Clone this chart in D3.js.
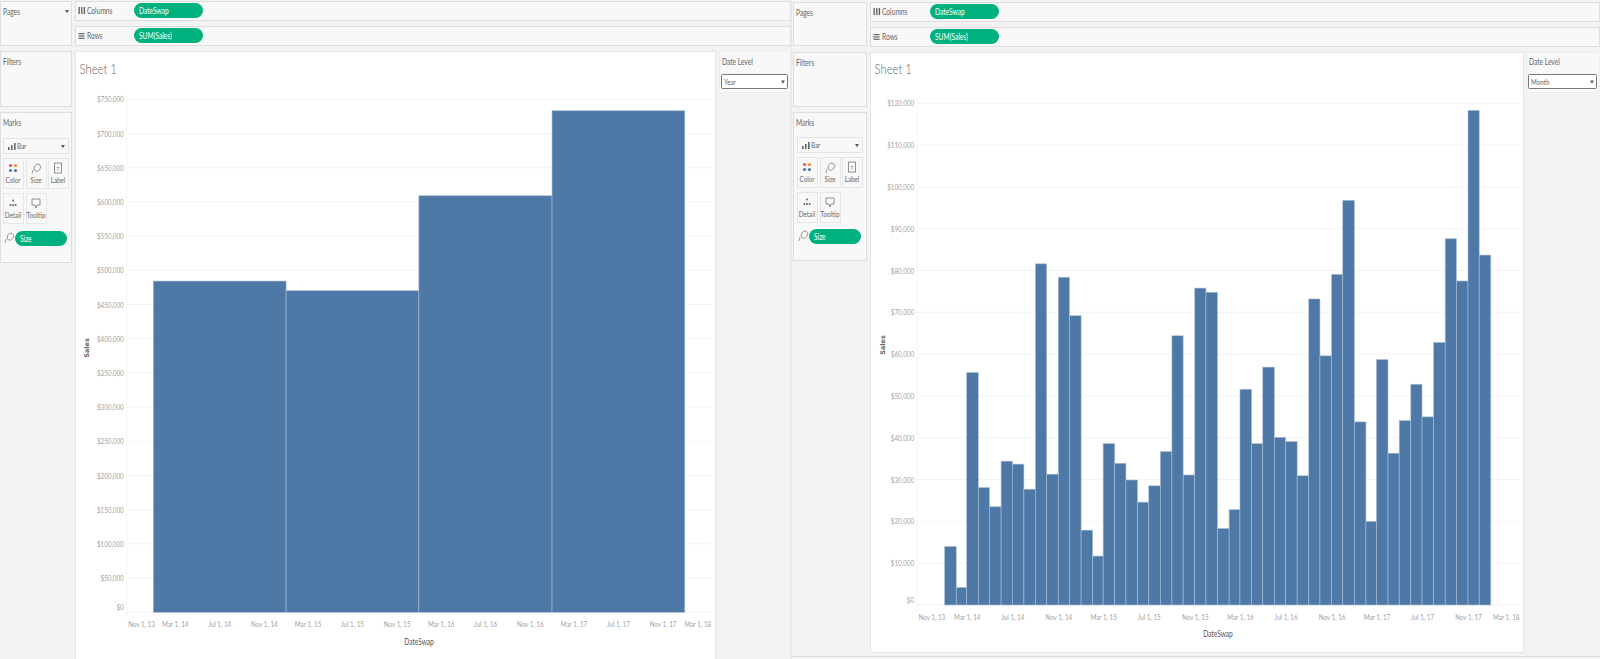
<!DOCTYPE html>
<html>
<head>
<meta charset="utf-8">
<script src="https://cdn.jsdelivr.net/npm/d3@7"></script>
<style>
html, body { margin: 0; padding: 0; background: #f3f3f3; overflow: hidden; }
text { font-family: Lato, sans-serif; }
text.wide { font-family: "DejaVu Sans", sans-serif; }
</style>
</head>
<body>
<svg id="chart" width="1600" height="659" style="display:block"></svg>
<script>
// values
var yearStarts = ["2014-01-01", "2015-01-01", "2016-01-01", "2017-01-01", "2018-01-01"];
var yearSales = [484300, 470200, 609000, 733300];
var yearTicks = d3.range(0, 750001, 50000);

var monthSales = [
    14000, 4200, 55600, 28100, 23500, 34400, 33700, 27700, 81600, 31300, 78400, 69200,
    17900, 11700, 38600, 33900, 29900, 24600, 28500, 36700, 64400, 31100, 75800, 74800,
    18300, 22800, 51600, 38600, 56900, 40100, 39100, 30900, 73200, 59600, 79100, 96800,
    43800, 20000, 58700, 36300, 44100, 52800, 45000, 62800, 87600, 77500, 118300, 83700
];
var monthTicks = d3.range(0, 120001, 10000);

var dateTicks = ["2013-11-01", "2014-03-01", "2014-07-01", "2014-11-01", "2015-03-01", "2015-07-01",
    "2015-11-01", "2016-03-01", "2016-07-01", "2016-11-01", "2017-03-01", "2017-07-01", "2017-11-01", "2018-03-01"];

var parseDate = d3.timeParse("%Y-%m-%d");
var formatDate = d3.timeFormat("%b %-d, %y");
var svg = d3.select("#chart");

var green = "#00b180";
var barColor = "#4e79a7";

function box(x, y, w, h, fill, stroke) {
    svg.append("rect").attr("x", x + 0.5).attr("y", y + 0.5).attr("width", w).attr("height", h)
        .attr("fill", fill).attr("stroke", stroke || "#dedede");
}

function label(x, y, str, size, color, weight) {
    return svg.append("text").attr("x", x).attr("y", y).text(str)
        .attr("font-size", size).attr("fill", color || "#666")
        .attr("font-weight", weight || 400);
}

function pill(x, y, w, str) {
    svg.append("rect").attr("x", x).attr("y", y).attr("width", w).attr("height", 15)
        .attr("rx", 7.5).attr("fill", green);
    label(x + 5, y + 11, str, 8.5, "#fff");
}

function caret(x, y) {
    svg.append("path").attr("d", d3.symbol(d3.symbolTriangle, 6)())
        .attr("transform", "translate(" + x + "," + y + ") rotate(180)").attr("fill", "#555");
}

function lasso(x, y) {
    svg.append("ellipse").attr("cx", x + 1).attr("cy", y - 1).attr("rx", 3).attr("ry", 3.8)
        .attr("transform", "rotate(30 " + x + " " + y + ")")
        .attr("fill", "none").attr("stroke", "#888").attr("stroke-width", 0.8);
    svg.append("path").attr("d", "M" + (x - 3) + "," + (y + 2) + "l-1,4")
        .attr("stroke", "#888").attr("stroke-width", 0.8);
}

function cardIcon(name, x, y) {
    if (name == "Color") {
        [[-2.5, -2.5, "#e15759"], [2.5, -2.5, "#f28e2b"], [-2.5, 2.5, "#4e79a7"], [2.5, 2.5, "#4e79a7"]].forEach(function (p) {
            svg.append("circle").attr("cx", x + p[0]).attr("cy", y + p[1]).attr("r", 1.6).attr("fill", p[2]);
        });
    } else if (name == "Size") {
        lasso(x, y);
    } else if (name == "Label") {
        svg.append("rect").attr("x", x - 3.5).attr("y", y - 5).attr("width", 7).attr("height", 10)
            .attr("fill", "none").attr("stroke", "#777").attr("stroke-width", 0.8);
        label(x, y + 2.5, "T", 6, "#777").attr("text-anchor", "middle");
    } else if (name == "Detail") {
        [[0, -2.5], [-2.6, 2], [0, 2], [2.6, 2]].forEach(function (p) {
            svg.append("circle").attr("cx", x + p[0]).attr("cy", y + p[1]).attr("r", 1).attr("fill", "#666");
        });
    } else {
        svg.append("path").attr("d", "M" + (x - 4) + "," + (y - 4) + "h8v6h-3l-1,3l-1,-3h-3z")
            .attr("fill", "none").attr("stroke", "#777").attr("stroke-width", 0.8);
    }
}

// left cards of one worksheet
function sidePanel(ox, dy, cardW, marksBottom) {
    box(ox, 1 + dy, cardW, 44 - dy, "#f8f8f8");
    label(ox + 3, 15 + dy, "Pages", 8.5);
    box(ox, 51 + dy, cardW, 55 - dy, "#f8f8f8");
    label(ox + 3, 65 + dy, "Filters", 8.5);
    box(ox, 112, cardW, marksBottom - 112, "#f8f8f8");
    label(ox + 3, 126, "Marks", 8.5);

    var cx = ox + (dy ? 4 : 3), cy = dy ? -1 : 0;
    box(cx, 138 + cy, 65, 15, "#f8f8f8", "#e4e4e4");
    label(cx + 14, 149 + cy, "Bar", 8);
    caret(cx + 60, 146 + cy);
    [[5, 4], [8, 2], [11, 0]].forEach(function (b) {
        svg.append("rect").attr("x", cx + b[0]).attr("y", 143 + cy + b[1]).attr("width", 1.6).attr("height", 7 - b[1])
            .attr("fill", "#666");
    });

    var cards = [["Color", 0, 158], ["Size", 23, 158], ["Label", 45, 158], ["Detail", 0, 193], ["Tooltip", 23, 193]];
    cards.forEach(function (c) {
        var top = c[2] + cy;
        box(cx + c[1], top, 20, 30, "#f8f8f8", "#e6e6e6");
        label(cx + c[1] + 10, top + 25, c[0], 8).attr("text-anchor", "middle");
        cardIcon(c[0], cx + c[1] + 10, top + 10);
    });
    svg.append("rect").attr("x", cx + 12).attr("y", 231 + cy * 2).attr("width", 52).attr("height", 15)
        .attr("rx", 7.5).attr("fill", green);
    label(cx + 17, 242 + cy * 2, "Size", 8.5, "#fff");
    lasso(cx + 6, 237 + cy * 2);
}

function shelves(x, dy, end, labelX, pillX) {
    box(x, 1 + dy, end - x, 19, "#f8f8f8");
    box(x, 26 + dy, end - x, 19, "#f8f8f8");
    label(labelX, 14 + dy, "Columns", 8.5);
    label(labelX, 39 + dy, "Rows", 8.5);
    [0, 2.6, 5.2].forEach(function (d) {
        svg.append("rect").attr("x", labelX - 8.5 + d).attr("y", 7 + dy).attr("width", 1.4).attr("height", 7).attr("fill", "#666");
        svg.append("rect").attr("x", labelX - 8.5).attr("y", 33 + dy + d * 0.9).attr("width", 6).attr("height", 1.2).attr("fill", "#666");
    });
    pill(pillX, 3 + dy, 69, "DateSwap");
    pill(pillX, 28 + dy, 69, "SUM(Sales)");
}

function dateAxis(g, x, y0) {
    var ticks = dateTicks.map(parseDate);
    var axis = g.append("g").attr("transform", "translate(0," + y0 + ")")
        .call(d3.axisBottom(x).tickValues(ticks).tickFormat(formatDate).tickSize(0).tickPadding(9.5));
    axis.select(".domain").remove();
    axis.selectAll("text").attr("font-size", 8).attr("fill", "#a2a2a2");
    // end labels get pushed inside the pane
    var r = x.range();
    axis.selectAll(".tick text").filter(function (d, i) { return i == 0; })
        .attr("text-anchor", "start").attr("x", r[0] - x(ticks[0]) + 1);
    axis.selectAll(".tick text").filter(function (d, i) { return i == ticks.length - 1; })
        .attr("text-anchor", "end").attr("x", r[1] - x(ticks[ticks.length - 1]) - 1);
}

function salesAxis(g, y, ticks, xLeft, xRight) {
    g.selectAll(".grid").data(ticks).enter().append("line").attr("class", "grid")
        .attr("x1", xLeft).attr("x2", xRight)
        .attr("y1", function (d) { return y(d); }).attr("y2", function (d) { return y(d); })
        .attr("stroke", "#f4f4f4");
    g.append("line").attr("x1", xLeft).attr("x2", xLeft)
        .attr("y1", y.range()[1] - 6).attr("y2", y.range()[0] + 6).attr("stroke", "#f6f6f6");
    var axis = g.append("g").attr("transform", "translate(" + xLeft + ",0)")
        .call(d3.axisLeft(y).tickValues(ticks).tickFormat(d3.format("$,")).tickSize(0).tickPadding(3));
    axis.select(".domain").remove();
    axis.selectAll("text").attr("font-size", 8).attr("fill", "#a2a2a2");
    // the $0 label sits a little above the baseline
    axis.selectAll(".tick text").filter(function (d) { return d == 0; }).attr("y", -5.5);
}

function drawBars(g, x, y, rows) {
    g.selectAll(".bar").data(rows).enter().append("rect").attr("class", "bar")
        .attr("x", function (d) { return x(d.start); })
        .attr("width", function (d) { return x(d.end) - x(d.start); })
        .attr("y", function (d) { return y(d.value); })
        .attr("height", function (d) { return y(0) - y(d.value); })
        .attr("fill", barColor)
        .attr("stroke", "#a9bdd3").attr("stroke-width", 0.6);
}

function sheet(px, pw, top, pb, titleX) {
    svg.append("rect").attr("x", px + 0.5).attr("y", top + 0.5).attr("width", pw).attr("height", pb - top)
        .attr("fill", "#fff").attr("stroke", "#e6e6e6");
    label(titleX, 74, "Sheet 1", 14.5, "#666", 300);
    return svg.append("g");
}

function axisTitles(cx, cy, tx, ty) {
    label(cx, cy, "Sales", 6.5, "#666", 700)
        .attr("class", "wide")
        .attr("text-anchor", "middle").attr("transform", "rotate(-90 " + cx + " " + cy + ")");
    label(tx, ty, "DateSwap", 8.5, "#555").attr("text-anchor", "middle");
}

function dateLevel(ox, top, w, value) {
    box(ox, top, w, 92 - top, "#f8f8f8", "#eeeeee");
    label(ox + 3, 65, "Date Level", 8.5);
    svg.append("rect").attr("x", ox + 2.5).attr("y", 74.5).attr("width", w - 5).attr("height", 14)
        .attr("rx", 1).attr("fill", "#fff").attr("stroke", "#777");
    label(ox + 5, 84.5, value, 8);
    caret(ox + w - 7, 81.5);
}

// year worksheet
sidePanel(0, 0, 71, 262);
caret(67, 11);
shelves(75, 0, 790, 87, 134);
var g1 = sheet(75, 640, 51, 660, 79.5);
var x1 = d3.scaleTime().domain([parseDate("2014-01-01"), parseDate("2018-01-01")]).range([153.3, 684.8]);
x1.domain([x1.invert(126.7), x1.invert(711.7)]).range([126.7, 711.7]);
var y1 = d3.scaleLinear().domain([0, 750000]).range([612.3, 99.3]);
var yearRows = yearSales.map(function (v, i) {
    return { start: parseDate(yearStarts[i]), end: parseDate(yearStarts[i + 1]), value: v };
});
salesAxis(g1, y1, yearTicks, 126.7, 711.7);
drawBars(g1, x1, y1, yearRows);
dateAxis(g1, x1, 612.3);
axisTitles(88.5, 348, 419, 645);
dateLevel(719, 51, 71, "Year");
svg.append("rect").attr("x", 790.5).attr("y", 0).attr("width", 1).attr("height", 659).attr("fill", "#e2e2e2");

// month worksheet
sidePanel(793, 1, 73, 260);
shelves(870, 1, 1599, 882, 930);
var g2 = sheet(870, 653, 52, 652, 874.5);
var x2 = d3.scaleTime().domain([parseDate("2014-03-01"), parseDate("2017-11-01")]).range([966.7, 1468]);
x2.domain([x2.invert(917), x2.invert(1520)]).range([917, 1520]);
var y2 = d3.scaleLinear().domain([0, 120000]).range([605, 103.3]);
var monthRows = monthSales.map(function (v, i) {
    return { start: new Date(2014, i, 1), end: new Date(2014, i + 1, 1), value: v };
});
salesAxis(g2, y2, monthTicks, 917, 1520);
drawBars(g2, x2, y2, monthRows);
dateAxis(g2, x2, 605);
axisTitles(885, 345, 1218, 637);
dateLevel(1526, 52, 73, "Month");
svg.append("rect").attr("x", 791).attr("y", 656).attr("width", 809).attr("height", 1).attr("fill", "#dcdcdc");

// the screenshot is squeezed sideways, so all the text reads narrow
svg.selectAll("text").filter(function () { return this.getAttribute("class") != "wide"; })
    .each(function () {
        d3.select(this).attr("textLength", this.getComputedTextLength() * 0.78)
            .attr("lengthAdjust", "spacingAndGlyphs");
    });
</script>
</body>
</html>
